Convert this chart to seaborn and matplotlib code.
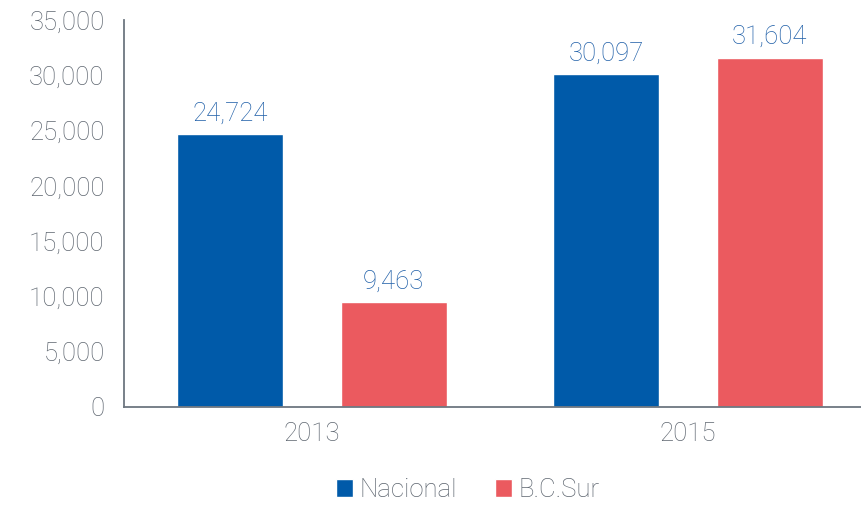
import pandas as pd
import numpy as np
import matplotlib
matplotlib.use('Agg')
import matplotlib.pyplot as plt
import seaborn as sns

# datos
anios = ['2013', '2015']
nacional = [24724, 30097]
bc_sur = [9463, 31604]
series = ['Nacional', 'B.C.Sur']

df = pd.DataFrame({
    'Año': anios * 2,
    'Valor': nacional + bc_sur,
    'Serie': [series[0]] * 2 + [series[1]] * 2,
})

azul = '#005AA9'
rojo = '#EB5A5F'
gris = '#5E6670'
peso = 'light'
tam = 18.5

sns.set_style('white')
plt.rcParams['font.family'] = ['Roboto', 'DejaVu Sans']

fig = plt.figure(figsize=(8.61, 5.07), dpi=100)
ax = fig.add_axes([124 / 861, 100 / 507, 752 / 861, 387 / 507])

sns.barplot(data=df, x='Año', y='Valor', hue='Serie', order=anios,
            hue_order=series, palette=[azul, rojo], width=0.868, gap=0.35,
            saturation=1, ax=ax)

for cont in ax.containers:
    ax.bar_label(cont, labels=[f'{v:,.0f}' for v in cont.datavalues],
                 padding=6, color='#1F5FA8', fontsize=tam, fontweight=peso)

ax.set_ylim(0, 35000)
ax.set_xlim(-0.5, 1.5)
ax.set_yticks(np.arange(0, 35001, 5000))
ax.set_yticklabels([f'{v:,}' for v in range(0, 35001, 5000)])
ax.set_xticks([-0.5, 0.5, 1.5], minor=False)
ax.set_xticklabels(['', '', ''])
ax.set_xticks([0, 1], minor=True)
ax.set_xticklabels(anios, minor=True)
ax.tick_params(axis='x', which='minor', length=0, pad=11)
ax.tick_params(axis='x', which='major', length=8, width=1.3, color='#6D7680', direction='out')
ax.tick_params(axis='y', length=8, width=1.3, color='#6D7680', direction='out', pad=6)
for lab in ax.get_yticklabels() + ax.get_xticklabels(minor=True):
    lab.set_color(gris)
    lab.set_fontsize(tam)
    lab.set_fontweight(peso)
ax.set_xlabel('')
ax.set_ylabel('')

sns.despine(ax=ax)
for s in ['left', 'bottom']:
    ax.spines[s].set_color('#6D7680')
    ax.spines[s].set_linewidth(1.3)

ax.legend(loc='center', ncol=2, frameon=False,
          handlelength=0.65, handleheight=0.65, handletextpad=0.25,
          columnspacing=1.5,
          prop={'size': tam, 'weight': peso}, labelcolor=gris)
# centrar leyenda respecto a la figura
leg = ax.get_legend()
leg.set_bbox_to_anchor((468 / 861, 17 / 507), transform=fig.transFigure)

fig.savefig('out.png', dpi=100)
